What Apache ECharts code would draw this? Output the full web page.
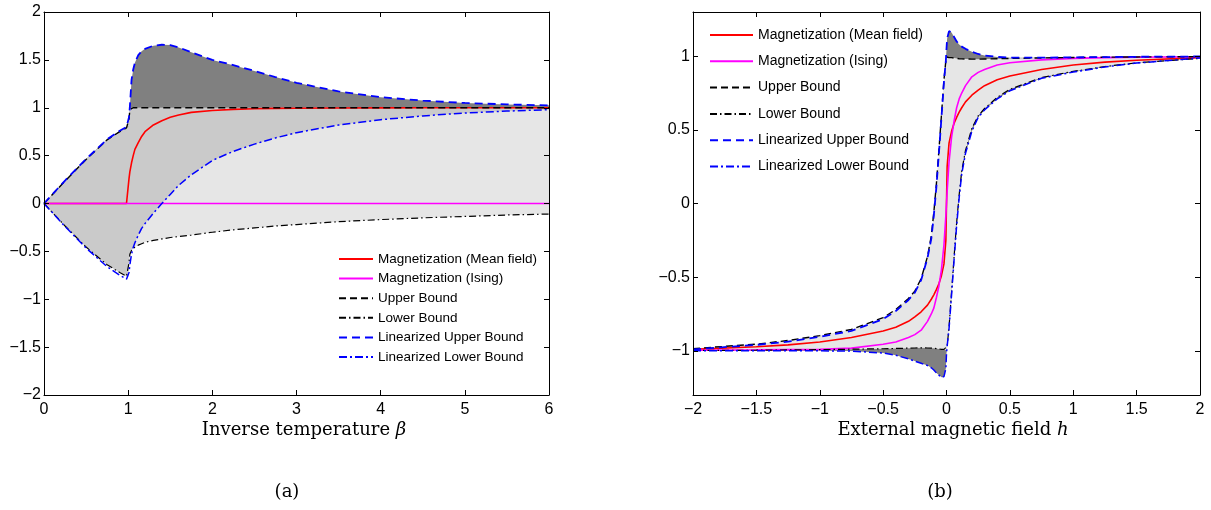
<!DOCTYPE html>
<html><head><meta charset="utf-8">
<script src="https://cdn.jsdelivr.net/npm/echarts/dist/echarts.min.js"></script>
<style>html,body{margin:0;padding:0;background:#fff}#c{width:1211px;height:510px}</style>
</head><body><div id="c"></div>
<script>
// ---------- Panel (a): vs inverse temperature beta ----------
const betaL = [0, 0.25, 0.5, 0.75, 0.9, 0.98, 1.0, 1.01, 1.02, 1.04, 1.06, 1.08, 1.12, 1.16, 1.2, 1.3, 1.4, 1.5, 1.6, 1.75, 2.0, 2.25, 2.5, 2.75, 3.0, 3.5, 4.0, 4.5, 5.0, 5.5, 6.0];
const meanFieldL = [0, 0, 0, 0, 0, 0, 0, 0.26, 0.33, 0.425, 0.50, 0.565, 0.635, 0.70, 0.75, 0.82, 0.865, 0.90, 0.925, 0.952, 0.972, 0.983, 0.989, 0.993, 0.995, 0.998, 0.999, 1, 1, 1, 1];
const isingL = [0, 0, 0, 0, 0, 0, 0, 0, 0, 0, 0, 0, 0, 0, 0, 0, 0, 0, 0, 0, 0, 0, 0, 0, 0, 0, 0, 0, 0, 0, 0];
const upperL = [0, 0.235, 0.46, 0.665, 0.75, 0.79, 0.80, 0.88, 0.98, 1, 1, 1, 1, 1, 1, 1, 1, 1, 1, 1, 1, 1, 1, 1, 1, 1, 1, 1, 1, 1, 1];
const lowerL = [0, -0.235, -0.455, -0.64, -0.72, -0.76, -0.77, -0.62, -0.53, -0.49, -0.47, -0.455, -0.435, -0.42, -0.405, -0.385, -0.37, -0.355, -0.345, -0.33, -0.30, -0.275, -0.255, -0.235, -0.22, -0.19, -0.168, -0.15, -0.135, -0.12, -0.11];
const linUpperL = [0, 0.24, 0.465, 0.67, 0.76, 0.80, 0.81, 0.90, 1.01, 1.29, 1.40, 1.47, 1.55, 1.59, 1.615, 1.648, 1.658, 1.655, 1.63, 1.58, 1.50, 1.445, 1.385, 1.32, 1.26, 1.17, 1.11, 1.075, 1.05, 1.035, 1.025];
const linLowerL = [0, -0.24, -0.465, -0.66, -0.75, -0.79, -0.80, -0.72, -0.64, -0.53, -0.46, -0.41, -0.33, -0.26, -0.21, -0.10, 0.0, 0.095, 0.19, 0.30, 0.45, 0.545, 0.62, 0.685, 0.74, 0.82, 0.875, 0.915, 0.945, 0.965, 0.98];
const xTicksL = [0, 1, 2, 3, 4, 5, 6];
const yTicksL = [-2, -1.5, -1, -0.5, 0, 0.5, 1, 1.5, 2];

// ---------- Panel (b): vs external field h ----------
const hR = [-2, -1.5, -1.25, -1, -0.75, -0.5, -0.4, -0.3, -0.25, -0.2, -0.15, -0.12, -0.1, -0.08, -0.06, -0.04, -0.02, -0.005, 0, 0.005, 0.02, 0.04, 0.06, 0.08, 0.1, 0.12, 0.15, 0.2, 0.25, 0.3, 0.4, 0.5, 0.75, 1, 1.25, 1.5, 2];
const meanFieldR = [-0.99, -0.972, -0.96, -0.94, -0.91, -0.865, -0.84, -0.80, -0.77, -0.735, -0.69, -0.65, -0.62, -0.585, -0.545, -0.49, -0.41, -0.25, 0, 0.25, 0.41, 0.49, 0.545, 0.585, 0.62, 0.65, 0.69, 0.735, 0.77, 0.80, 0.84, 0.865, 0.91, 0.94, 0.96, 0.972, 0.99];
const isingR = [-0.996, -0.994, -0.992, -0.99, -0.982, -0.955, -0.94, -0.91, -0.89, -0.86, -0.80, -0.75, -0.71, -0.64, -0.56, -0.45, -0.28, -0.08, 0, 0.08, 0.28, 0.45, 0.56, 0.65, 0.71, 0.75, 0.80, 0.86, 0.89, 0.91, 0.94, 0.955, 0.975, 0.985, 0.99, 0.993, 0.996];
const upperR = [-0.985, -0.955, -0.93, -0.897, -0.855, -0.775, -0.72, -0.645, -0.595, -0.51, -0.36, -0.22, -0.06, 0.13, 0.36, 0.6, 0.84, 0.97, 0.995, 0.995, 0.99, 0.99, 0.987, 0.985, 0.983, 0.982, 0.981, 0.98, 0.98, 0.981, 0.983, 0.985, 0.988, 0.991, 0.993, 0.995, 0.997];
const lowerR = [-0.998, -0.996, -0.994, -0.992, -0.989, -0.986, -0.984, -0.982, -0.981, -0.98, -0.981, -0.982, -0.983, -0.985, -0.987, -0.99, -0.99, -0.995, -0.995, -0.97, -0.84, -0.6, -0.36, -0.13, 0.06, 0.22, 0.36, 0.51, 0.595, 0.645, 0.72, 0.775, 0.855, 0.897, 0.93, 0.955, 0.985];
const linUpperR = [-0.99, -0.96, -0.938, -0.905, -0.865, -0.785, -0.73, -0.655, -0.605, -0.52, -0.37, -0.24, -0.08, 0.11, 0.34, 0.58, 0.83, 0.97, 1.05, 1.12, 1.17, 1.16, 1.13, 1.10, 1.08, 1.065, 1.05, 1.03, 1.015, 1.005, 0.995, 0.99, 0.99, 0.992, 0.994, 0.996, 0.998];
const linLowerR = [-1.0, -1.0, -1.0, -1.0, -1.002, -1.015, -1.03, -1.055, -1.07, -1.085, -1.10, -1.115, -1.13, -1.15, -1.165, -1.18, -1.175, -1.12, -1.02, -0.97, -0.85, -0.62, -0.38, -0.15, 0.04, 0.2, 0.34, 0.49, 0.585, 0.635, 0.71, 0.765, 0.85, 0.892, 0.927, 0.953, 0.988];
const xTicksR = [-2, -1.5, -1, -0.5, 0, 0.5, 1, 1.5, 2];
const yTicksR = [-1, -0.5, 0, 0.5, 1];

const seriesNames = ['Magnetization (Mean field)', 'Magnetization (Ising)', 'Upper Bound', 'Lower Bound', 'Linearized Upper Bound', 'Linearized Lower Bound'];

// ---------- helpers ----------
const fmt = v => (v < 0 ? '\u2212' + String(Math.abs(v)) : String(v));
const pairs = (xs, ys) => xs.map((x, i) => [x, ys[i]]);
const AX = '#000';
const FONT = "'Liberation Sans', Arial, sans-serif";

function band(gi, xs, top, bottom, color, z) {
  return {
    type: 'custom', xAxisIndex: gi, yAxisIndex: gi, silent: true, z: z, clip: true,
    data: [[xs[0], bottom[0]]],
    renderItem: function (params, api) {
      const pts = [];
      for (let i = 0; i < xs.length; i++) pts.push(api.coord([xs[i], top[i]]));
      for (let i = xs.length - 1; i >= 0; i--) pts.push(api.coord([xs[i], bottom[i]]));
      return { type: 'polygon', shape: { points: pts }, style: { fill: color, stroke: null } };
    }
  };
}
function line(gi, name, xs, ys, color, width, type, z) {
  return {
    type: 'line', name: name, xAxisIndex: gi, yAxisIndex: gi, data: pairs(xs, ys),
    symbol: 'none', showSymbol: false, smooth: false, z: z, silent: true,
    lineStyle: { color: color, width: width, type: type }, itemStyle: { color: color },
    emphasis: { disabled: true }
  };
}
const DASH = [7, 4];
const DASHDOT = [7, 3, 1.5, 3];
const BDASH = [8, 5];
const BDASHDOT = [8, 3, 2, 3];

function curves(gi, xs, mf, is, up, lo, lup, llo) {
  return [
    line(gi, seriesNames[0], xs, mf, '#ff0000', 1.6, 'solid', 5),
    line(gi, seriesNames[1], xs, is, '#ff00ff', 1.6, 'solid', 6),
    line(gi, seriesNames[2], xs, up, '#000000', 1.4, DASH, 7),
    line(gi, seriesNames[3], xs, lo, '#000000', 1.2, DASHDOT, 7),
    line(gi, seriesNames[4], xs, lup, '#0000ff', 1.8, BDASH, 8),
    line(gi, seriesNames[5], xs, llo, '#0000ff', 1.5, BDASHDOT, 8)
  ];
}

// fill boundaries derived from the data arrays
const midBottomL = betaL.map((_, i) => Math.max(lowerL[i], linLowerL[i]));
const darkTopL = betaL.map((_, i) => Math.max(upperL[i], linUpperL[i]));
const darkTopR = hR.map((_, i) => Math.max(upperR[i], linUpperR[i]));
const darkBotR = hR.map((_, i) => Math.min(lowerR[i], linLowerR[i]));

function xAxisDef(gi, min, max, interval, pos, labels) {
  return {
    type: 'value', gridIndex: gi, min: min, max: max, interval: interval, position: pos, z: 20,
    axisLine: { show: true, onZero: false, lineStyle: { color: AX, width: 1 } },
    axisTick: { show: true, inside: true, length: 5, lineStyle: { color: AX } },
    axisLabel: { show: labels, margin: 7, color: '#000', fontSize: 16, fontFamily: FONT, formatter: fmt },
    splitLine: { show: false }
  };
}
function yAxisDef(gi, min, max, interval, pos, labels, custom) {
  const a = {
    type: 'value', gridIndex: gi, min: min, max: max, position: pos, z: 20,
    axisLine: { show: true, onZero: false, lineStyle: { color: AX, width: 1 } },
    axisTick: { show: true, inside: true, length: 5, lineStyle: { color: AX } },
    axisLabel: { show: labels, margin: 3, color: '#000', fontSize: 16, fontFamily: FONT,
      formatter: v => (Math.abs(v * 2 - Math.round(v * 2)) > 1e-6 ? '' : fmt(Math.round(v * 2) / 2)) },
    splitLine: { show: false }
  };
  if (custom) {
    a.axisTick.customValues = custom;
    a.axisLabel.customValues = custom;
    a.splitNumber = 5;
  } else {
    a.interval = interval;
  }
  return a;
}

const legendCommon = {
  data: seriesNames, orient: 'vertical', selectedMode: false, itemHeight: 14,
  backgroundColor: 'transparent', padding: 0,
  itemStyle: { color: 'rgba(0,0,0,0)', borderColor: 'rgba(0,0,0,0)', borderWidth: 0, opacity: 0 }
};

const option = {
  animation: false,
  backgroundColor: '#fff',
  grid: [
    { left: 44, top: 12, width: 505, height: 383 },
    { left: 693, top: 12, width: 507, height: 383 }
  ],
  xAxis: [
    xAxisDef(0, 0, 6, 1, 'bottom', true),
    xAxisDef(0, 0, 6, 1, 'top', false),
    xAxisDef(1, -2, 2, 0.5, 'bottom', true),
    xAxisDef(1, -2, 2, 0.5, 'top', false)
  ],
  yAxis: [
    yAxisDef(0, -2, 2, 0.5, 'left', true, null),
    yAxisDef(0, -2, 2, 0.5, 'right', false, null),
    yAxisDef(1, -1.3, 1.3, 0.5, 'left', true, yTicksR),
    yAxisDef(1, -1.3, 1.3, 0.5, 'right', false, yTicksR)
  ],
  legend: [
    Object.assign({}, legendCommon, { left: 338, top: 252, itemWidth: 34, itemGap: 5.6,
      textStyle: { color: '#000', fontFamily: FONT, fontSize: 13.5 } }),
    Object.assign({}, legendCommon, { left: 709, top: 28, itemWidth: 43, itemGap: 12.3,
      textStyle: { color: '#000', fontFamily: FONT, fontSize: 14 } })
  ],
  series: [
    band(0, betaL, upperL, lowerL, '#e6e6e6', 1),
    band(0, betaL, upperL, midBottomL, '#cacaca', 2),
    band(0, betaL, darkTopL, upperL, '#808080', 3),
    band(2, hR, upperR, lowerR, '#e6e6e6', 1),
    band(2, hR, darkTopR, upperR, '#808080', 3),
    band(2, hR, lowerR, darkBotR, '#808080', 3)
  ].concat(
    curves(0, betaL, meanFieldL, isingL, upperL, lowerL, linUpperL, linLowerL),
    curves(2, hR, meanFieldR, isingR, upperR, lowerR, linUpperR, linLowerR)
  ),
  graphic: [
    { type: 'text', x: 304, y: 430, style: { text: 'Inverse temperature {i|\u03b2}', align: 'center', verticalAlign: 'middle',
      font: "18px 'DejaVu Serif', serif", fill: '#000', rich: { i: { fontStyle: 'italic', fontFamily: 'DejaVu Serif', fontSize: 18 } } } },
    { type: 'text', x: 953, y: 430, style: { text: 'External magnetic field {i|h}', align: 'center', verticalAlign: 'middle',
      font: "18px 'DejaVu Serif', serif", fill: '#000', rich: { i: { fontStyle: 'italic', fontFamily: 'DejaVu Serif', fontSize: 18 } } } },
    { type: 'text', x: 287, y: 492, style: { text: '(a)', align: 'center', verticalAlign: 'middle', font: "18px 'DejaVu Serif', serif", fill: '#000' } },
    { type: 'text', x: 940, y: 492, style: { text: '(b)', align: 'center', verticalAlign: 'middle', font: "18px 'DejaVu Serif', serif", fill: '#000' } }
  ]
};
const chart = echarts.init(document.getElementById('c'), null, { renderer: 'canvas' });
chart.setOption(option);
</script></body></html>
